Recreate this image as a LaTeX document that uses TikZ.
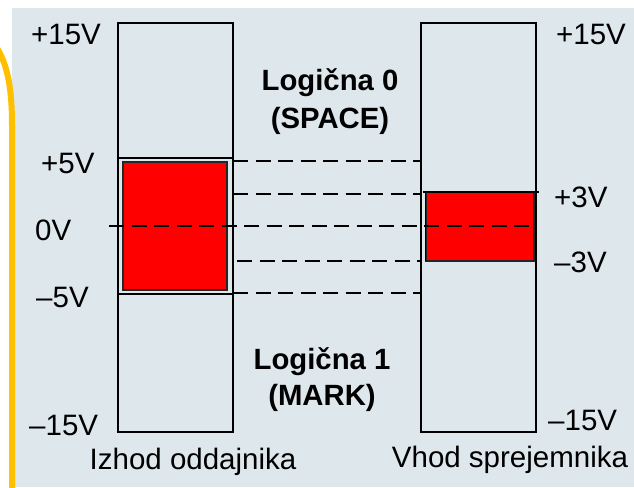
\documentclass[tikz,border=0pt]{standalone}
\usepackage{fontspec}
\setmainfont{Liberation Sans}
\definecolor{bgc}{RGB}{221,231,236}
\definecolor{ylw}{RGB}{255,192,0}
\definecolor{redf}{RGB}{255,0,0}
\begin{document}
\begin{tikzpicture}[x=1pt,y=-1pt,
  lbl/.style={inner sep=0pt,font=\fontsize{29.5}{34}\selectfont},
  blbl/.style={inner sep=0pt,font=\fontsize{29.3}{38}\selectfont\bfseries,align=center},
  bar/.style={draw=black,line width=1.8pt},
  redbox/.style={fill=redf,draw=black!85,line width=1.2pt},
  dsh/.style={draw=black,line width=1.8pt,dash pattern=on 15pt off 7.5pt}]
\useasboundingbox (0,0) rectangle (634,487);
\fill[white] (0,0) rectangle (634,487);
\fill[bgc] (12,8) rectangle (634,487);
\draw[ylw,line width=6pt] (-3,48) .. controls (8,66) and (12,90) .. (12,125) -- (12,490);
% red zones
\node[redbox,minimum width=104pt,minimum height=128pt,inner sep=0pt] (redL) at (175,226) {};
\node[redbox,minimum width=108pt,minimum height=69pt,inner sep=0pt] (redR) at (480,226.5) {};
% boxes
\node[bar,minimum width=115pt,minimum height=409pt,inner sep=0pt] (boxL) at (175.5,227.5) {};
\node[bar,minimum width=115pt,minimum height=409pt,inner sep=0pt] (boxR) at (478.5,227.5) {};
\coordinate (l5a) at (118,158); \coordinate (l5b) at (233,158);
\coordinate (lm5a) at (118,294); \coordinate (lm5b) at (233,294);
\draw[bar] (l5a) -- (l5b);
\draw[bar] (lm5a) -- (lm5b);
\coordinate (r3a) at (423,192); \coordinate (r3b) at (539,192);
\draw[bar] (r3a) -- (r3b);
\coordinate (r3c) at (425,261);
\draw[line width=1pt] (425,192) -- (r3c);
% dashed lines
\coordinate (d1a) at (233,161); \coordinate (d1b) at (421,161);
\coordinate (d2a) at (233,194); \coordinate (d2b) at (421,194);
\coordinate (d3a) at (109,226); \coordinate (d3b) at (533,226);
\coordinate (d4a) at (237,261); \coordinate (d4b) at (421,261);
\coordinate (d5a) at (233,293); \coordinate (d5b) at (421,293);
\draw[dsh] (d1a) -- (d1b);
\draw[dsh] (d2a) -- (d2b);
\draw[dsh] (d3a) -- (d3b);
\draw[dsh] (d4a) -- (d4b);
\draw[dsh] (d5a) -- (d5b);
% labels left
\node[lbl,anchor=base west] (t1) at (31,45) {+15V};
\node[lbl,anchor=base west] (t2) at (41,173) {+5V};
\node[lbl,anchor=base west] (t3) at (35,240) {0V};
\node[lbl,anchor=base west] (t4) at (36,307) {–5V};
\node[lbl,anchor=base west] (t5) at (29,435) {–15V};
\node[lbl,anchor=base] (t6) at (193,469) {Izhod oddajnika};
% labels right
\node[lbl,anchor=base west] (u1) at (556,45) {+15V};
\node[lbl,anchor=base west] (u2) at (554,207) {+3V};
\node[lbl,anchor=base west] (u3) at (554,272) {–3V};
\node[lbl,anchor=base west] (u4) at (548,430) {–15V};
\node[lbl,anchor=base] (u5) at (510,467) {Vhod sprejemnika};
% logic labels
\node[blbl,anchor=base] (g0) at (330,90) {Logična 0};
\node[blbl,anchor=base] (g0b) at (330,128) {(SPACE)};
\node[blbl,anchor=base] (g1) at (322,369) {Logična 1};
\node[blbl,anchor=base] (g1b) at (322,405) {(MARK)};
\end{tikzpicture}
\end{document}
